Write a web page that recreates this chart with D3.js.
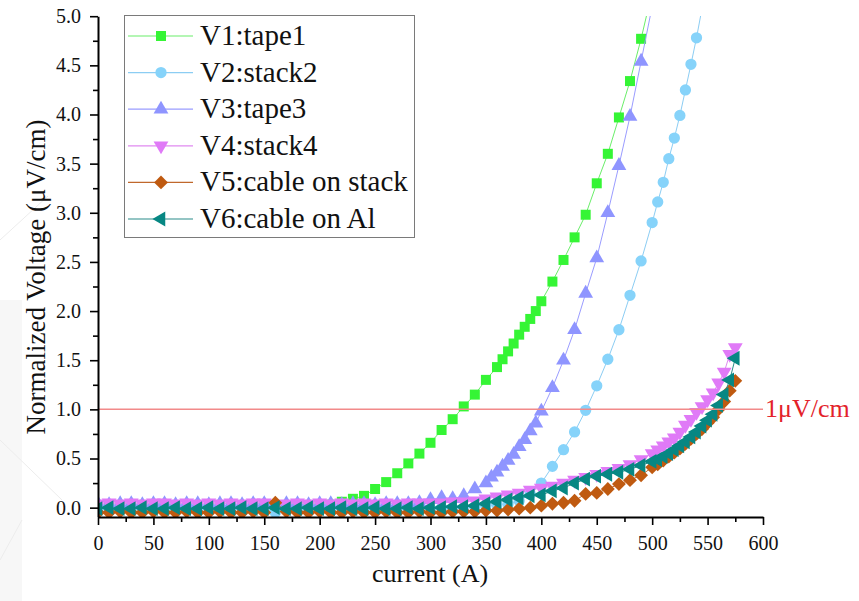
<!DOCTYPE html>
<html>
<head>
<meta charset="utf-8">
<script src="https://cdn.jsdelivr.net/npm/d3@7"></script>
<style>
    body { margin: 0; background: #fff; }
    svg { display: block; }
    text { font-family: "Liberation Serif", "Times New Roman", serif; }
</style>
</head>
<body>
<div id="chart-div"></div>
<script>
// currents (A) and normalized voltages (uV/cm)
var curLow = [0, 10, 20, 30, 40, 50, 60, 70, 80, 90, 100, 110, 120, 130, 140, 150, 160,
    170, 180, 190, 200, 210, 220, 230, 240, 250, 260, 270, 280, 290, 300, 310, 320, 330];

var v1Current = curLow.concat([340, 350, 360, 365, 370, 375, 380, 385, 390, 395, 400,
    410, 420, 430, 440, 450, 460, 470, 480, 490, 500]);
var v1Voltage = [0.00, 0.01, 0.00, 0.00, 0.01, 0.00, 0.01, 0.00, 0.00, 0.01, 0.00, 0.01,
    0.00, 0.00, 0.01, 0.00, 0.01, 0.00, 0.01, 0.01, 0.02, 0.03, 0.06, 0.09, 0.12, 0.19,
    0.26, 0.35, 0.45, 0.55, 0.66, 0.79, 0.90, 1.03,
    1.15, 1.30, 1.43, 1.51, 1.59, 1.67, 1.76, 1.84, 1.92, 2.00, 2.10,
    2.30, 2.52, 2.75, 2.98, 3.30, 3.60, 3.97, 4.34, 4.77, 5.25];

var v2Current = curLow.concat([340, 350, 360, 370, 380, 390, 400, 410, 420, 430, 440, 450,
    460, 470, 480, 490, 500, 505, 510, 515, 520, 525, 530, 535, 540, 545]);
var v2Voltage = [-0.01, -0.02, -0.01, -0.01, -0.02, -0.01, -0.01, -0.02, -0.01, -0.01,
    -0.02, -0.01, -0.01, -0.02, -0.01, -0.01, -0.05, -0.01, -0.02, -0.01, -0.01, -0.02,
    -0.01, -0.01, -0.02, -0.01, -0.01, -0.01, -0.02, -0.01, -0.01, 0.00, -0.01, 0.00,
    0.01, 0.02, 0.03, 0.04, 0.07, 0.14, 0.25, 0.42, 0.59, 0.77, 0.99, 1.24,
    1.51, 1.81, 2.16, 2.51, 2.90, 3.11, 3.31, 3.55, 3.76, 3.99, 4.25, 4.51, 4.78, 5.08];

var v3Current = curLow.concat([340, 350, 355, 360, 365, 370, 375, 380, 385, 390, 395, 400,
    410, 420, 430, 440, 450, 460, 470, 480, 490, 500]);
var v3Voltage = [0.04, 0.03, 0.04, 0.04, 0.03, 0.04, 0.04, 0.03, 0.04, 0.04, 0.03, 0.04,
    0.04, 0.03, 0.04, 0.04, 0.03, 0.04, 0.04, 0.03, 0.04, 0.04, 0.03, 0.04, 0.04, 0.03,
    0.04, 0.04, 0.04, 0.05, 0.08, 0.10, 0.09, 0.12,
    0.19, 0.25, 0.31, 0.36, 0.42, 0.48, 0.54, 0.62, 0.69, 0.78, 0.86, 0.98,
    1.22, 1.50, 1.81, 2.18, 2.54, 3.00, 3.48, 3.98, 4.54, 5.10];

// V4, V5 and V6 were logged at the same currents
var cableCurrent = curLow.concat([340, 350, 360, 370, 380, 390, 400, 410, 420, 430, 440,
    450, 460, 470, 480, 490, 500, 505, 510, 515, 520, 525, 530, 535, 540, 545, 550, 555,
    560, 565, 570, 575]);
var v4Voltage = [0.04, 0.05, 0.04, 0.05, 0.04, 0.05, 0.05, 0.04, 0.05, 0.04, 0.05, 0.04,
    0.05, 0.04, 0.05, 0.05, 0.03, 0.04, 0.05, 0.04, 0.05, 0.04, 0.05, 0.04, 0.05, 0.04,
    0.05, 0.04, 0.05, 0.05, 0.05, 0.05, 0.06, 0.06,
    0.07, 0.09, 0.11, 0.13, 0.15, 0.18, 0.20, 0.22, 0.25, 0.28, 0.31, 0.34, 0.37, 0.40,
    0.44, 0.49, 0.55, 0.59, 0.63, 0.67, 0.71, 0.77, 0.84, 0.90, 0.97, 1.03, 1.10, 1.17,
    1.27, 1.38, 1.56, 1.63];
var v5Voltage = [-0.05, -0.05, -0.04, -0.05, -0.05, -0.04, -0.05, -0.05, -0.04, -0.05,
    -0.05, -0.04, -0.05, -0.05, -0.04, -0.05, 0.05, -0.04, -0.05, -0.05, -0.04, -0.05,
    -0.05, -0.04, -0.05, -0.05, -0.04, -0.05, -0.05, -0.04, -0.05, -0.05, -0.04, -0.04,
    -0.04, -0.03, -0.03, -0.02, -0.01, 0.00, 0.02, 0.04, 0.05, 0.07, 0.14, 0.15, 0.19,
    0.24, 0.28, 0.33, 0.41, 0.44, 0.48, 0.52, 0.56, 0.60, 0.65, 0.70, 0.75, 0.80, 0.86,
    0.92, 1.00, 1.08, 1.19, 1.29];
var v6Voltage = [-0.01, 0.00, -0.01, -0.01, 0.00, -0.01, -0.01, 0.00, -0.01, -0.01, 0.00,
    -0.01, -0.01, 0.00, -0.01, -0.01, 0.00, -0.01, -0.01, 0.00, -0.01, -0.01, 0.00, -0.01,
    -0.01, 0.00, -0.01, -0.01, 0.00, -0.01, 0.00, 0.00, 0.01, 0.01,
    0.02, 0.04, 0.06, 0.08, 0.10, 0.12, 0.13, 0.17, 0.20, 0.25, 0.29, 0.32, 0.34, 0.36,
    0.39, 0.43, 0.47, 0.49, 0.52, 0.55, 0.59, 0.63, 0.67, 0.72, 0.77, 0.83, 0.89, 0.95,
    1.04, 1.15, 1.30, 1.52];

var seriesNames = ["V1:tape1", "V2:stack2", "V3:tape3", "V4:stack4", "V5:cable on stack", "V6:cable on Al"];
var xTicks = [0, 50, 100, 150, 200, 250, 300, 350, 400, 450, 500, 550, 600];
var xMinorTicks = [25, 75, 125, 175, 225, 275, 325, 375, 425, 475, 525, 575];
var yTicks = [0, 0.5, 1.0, 1.5, 2.0, 2.5, 3.0, 3.5, 4.0, 4.5, 5.0];
var yMinorTicks = [0.25, 0.75, 1.25, 1.75, 2.25, 2.75, 3.25, 3.75, 4.25, 4.75];
var criterion = 1.0;

function drawChart() {
    var svgWidth = 859;
    var svgHeight = 601;

    var svg = d3.select("#chart-div").append("svg")
        .attr("width", svgWidth)
        .attr("height", svgHeight);

    // faint watermark on the left edge of the slide
    svg.append("rect")
        .attr("x", 0).attr("y", 300)
        .attr("width", 22).attr("height", 301)
        .attr("fill", "#f7f7f7");
    svg.append("path")
        .attr("d", "M0,240 L48,196 M0,440 L62,500 M0,560 L22,520")
        .attr("stroke", "#ececec")
        .attr("fill", "none");

    var x = d3.scaleLinear()
        .domain([0, 600])
        .range([98, 763]);
    var y = d3.scaleLinear()
        .domain([-0.09, 5.0])
        .range([516.5, 16.2]);

    var series = [
        { name: seriesNames[0], xs: v1Current, ys: v1Voltage, marker: "#35f535", line: "#6aee6a", sym: d3.symbolSquare, size: 100, rot: 0 },
        { name: seriesNames[1], xs: v2Current, ys: v2Voltage, marker: "#86d3fa", line: "#8ccdf3", sym: d3.symbolCircle, size: 100, rot: 0 },
        { name: seriesNames[2], xs: v3Current, ys: v3Voltage, marker: "#8f95ff", line: "#9a9cff", sym: d3.symbolTriangle, size: 95, rot: 0 },
        { name: seriesNames[3], xs: cableCurrent, ys: v4Voltage, marker: "#e07af7", line: "#e08af0", sym: d3.symbolTriangle, size: 95, rot: 180 },
        { name: seriesNames[4], xs: cableCurrent, ys: v5Voltage, marker: "#bf5a10", line: "#c0682c", sym: d3.symbolSquare, size: 96, rot: 45 },
        { name: seriesNames[5], xs: cableCurrent, ys: v6Voltage, marker: "#078783", line: "#2b8c89", sym: d3.symbolTriangle, size: 95, rot: -90 }
    ];

    svg.append("clipPath").attr("id", "plot-clip")
        .append("rect")
        .attr("x", 98).attr("y", 16)
        .attr("width", 665).attr("height", 501);

    var plot = svg.append("g").attr("clip-path", "url(#plot-clip)");

    // 1 uV/cm criterion
    svg.append("line")
        .attr("x1", x(0)).attr("x2", x(600))
        .attr("y1", y(criterion)).attr("y2", y(criterion))
        .attr("stroke", "#f28a8a")
        .attr("stroke-width", 1.5);

    var line = d3.line()
        .x(function(d) { return x(d[0]); })
        .y(function(d) { return y(d[1]); });

    series.forEach(function(s) {
        var pts = s.xs.map(function(c, i) { return [c, s.ys[i]]; });
        plot.append("path")
            .datum(pts)
            .attr("d", line)
            .attr("fill", "none")
            .attr("stroke", s.line)
            .attr("stroke-width", 1);
        plot.selectAll(null)
            .data(pts)
            .enter()
            .append("path")
            .attr("d", d3.symbol().type(s.sym).size(s.size))
            .attr("transform", function(d) {
                return "translate(" + x(d[0]) + "," + y(d[1]) + ") rotate(" + s.rot + ")";
            })
            .attr("fill", s.marker);
    });

    // axes
    svg.append("g")
        .attr("transform", "translate(0,517)")
        .call(d3.axisBottom(x).tickValues(xTicks).tickSize(8).tickSizeOuter(0).tickPadding(11)
            .tickFormat(d3.format("d")));
    svg.append("g")
        .attr("transform", "translate(0,517)")
        .call(d3.axisBottom(x).tickValues(xMinorTicks).tickSize(5).tickSizeOuter(0).tickFormat(""))
        .select(".domain").remove();

    svg.append("g")
        .attr("transform", "translate(98,0)")
        .call(d3.axisLeft(y).tickValues(yTicks).tickSize(8).tickSizeOuter(0).tickPadding(9)
            .tickFormat(d3.format(".1f")));
    svg.append("g")
        .attr("transform", "translate(98,0)")
        .call(d3.axisLeft(y).tickValues(yMinorTicks).tickSize(5).tickSizeOuter(0).tickFormat(""))
        .selectAll(".domain").remove();

    svg.selectAll(".tick line").attr("stroke", "#000").attr("stroke-width", 1.6);
    svg.selectAll(".domain").attr("stroke", "#000").attr("stroke-width", 2);
    svg.selectAll(".tick text")
        .style("font-family", '"Liberation Serif", "Times New Roman", serif')
        .style("font-size", "20px")
        .attr("fill", "#111");

    svg.append("text")
        .attr("x", 430)
        .attr("y", 582)
        .attr("text-anchor", "middle")
        .style("font-size", "26px")
        .attr("fill", "#111")
        .text("current (A)");

    svg.append("text")
        .attr("transform", "translate(45,277) rotate(-90)")
        .attr("text-anchor", "middle")
        .style("font-size", "27px")
        .attr("fill", "#111")
        .text("Normalized Voltage (\u03bcV/cm)");

    svg.append("text")
        .attr("x", 765)
        .attr("y", y(criterion) + 8)
        .style("font-size", "26px")
        .attr("fill", "#e3222a")
        .text("1\u03bcV/cm");

    // legend
    var legend = svg.append("g");
    legend.append("rect")
        .attr("x", 124.5).attr("y", 15.5)
        .attr("width", 290).attr("height", 222)
        .attr("fill", "#fff")
        .attr("stroke", "#7a7a7a")
        .attr("stroke-width", 1);

    var rows = legend.selectAll("g.row")
        .data(series)
        .enter()
        .append("g")
        .attr("class", "row")
        .attr("transform", function(d, i) { return "translate(0," + (36 + i * 36.6) + ")"; });

    rows.append("line")
        .attr("x1", 128).attr("x2", 193)
        .attr("stroke", function(d) { return d.line; })
        .attr("stroke-width", 1.2);
    rows.append("path")
        .attr("d", function(d) { return d3.symbol().type(d.sym).size(d.size)(); })
        .attr("transform", function(d) { return "translate(161,0) rotate(" + d.rot + ")"; })
        .attr("fill", function(d) { return d.marker; });
    rows.append("text")
        .attr("x", 200)
        .attr("y", 9)
        .style("font-size", "29px")
        .attr("fill", "#111")
        .text(function(d) { return d.name; });
}

drawChart();
</script>
</body>
</html>
